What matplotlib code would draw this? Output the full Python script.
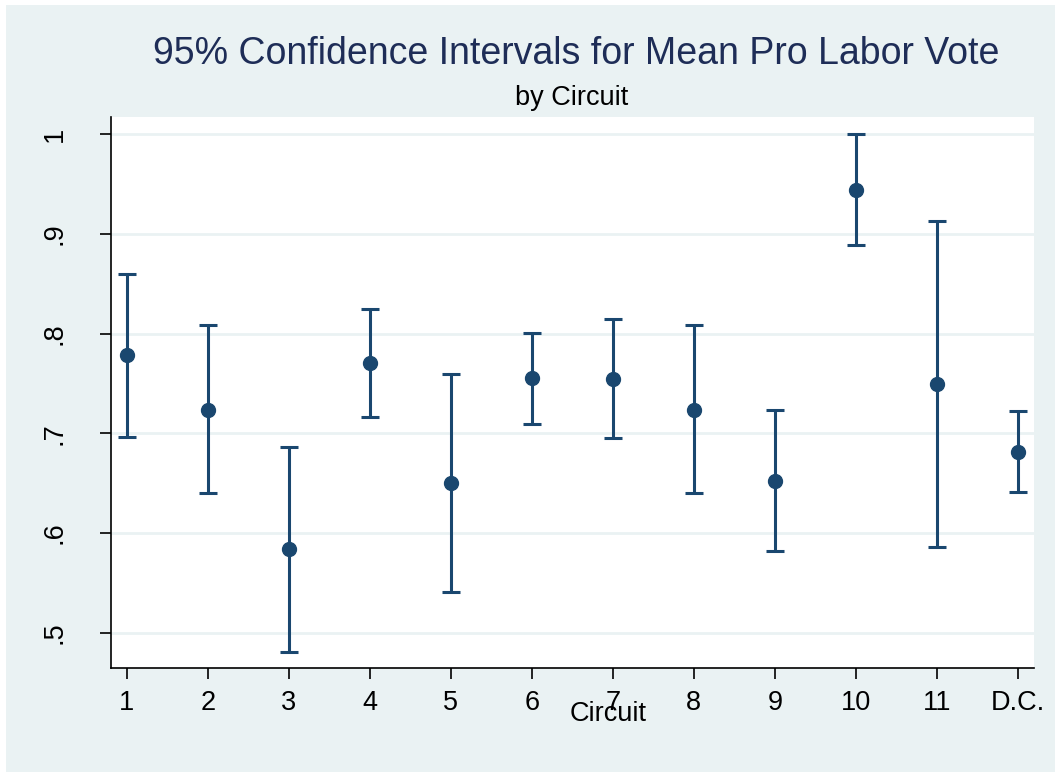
import matplotlib
matplotlib.use("Agg")
import matplotlib.pyplot as plt
from matplotlib.patches import Rectangle

circuits = ["1", "2", "3", "4", "5", "6", "7", "8", "9", "10", "11", "D.C."]
means = [0.779, 0.723, 0.584, 0.771, 0.650, 0.756, 0.755, 0.723, 0.652, 0.944, 0.750, 0.681]
lower = [0.696, 0.640, 0.481, 0.716, 0.541, 0.709, 0.695, 0.640, 0.582, 0.889, 0.586, 0.641]
upper = [0.860, 0.809, 0.686, 0.825, 0.760, 0.801, 0.815, 0.809, 0.723, 1.000, 0.913, 0.722]
yticks = [0.5, 0.6, 0.7, 0.8, 0.9, 1.0]
ytick_labels = [".5", ".6", ".7", ".8", ".9", "1"]

plt.rcParams['font.family'] = ['Liberation Sans', 'DejaVu Sans']

W, H = 1055, 772
fig = plt.figure(figsize=(W / 100, H / 100), dpi=100)
fig.patch.set_facecolor("white")
bg = "#EAF2F3"
fig.patches.append(Rectangle((6 / W, 0), 1 - 6 / W, 1 - 5 / H, transform=fig.transFigure,
                             facecolor=bg, edgecolor="none", zorder=-10))

left, right, top, bottom = 110.7, 1034, 117, 668
ax = fig.add_axes([left / W, 1 - bottom / H, (right - left) / W, (bottom - top) / H])
ax.set_facecolor("white")

x = list(range(1, len(circuits) + 1))
col = "#1A476F"
yerr = [[m - l for m, l in zip(means, lower)], [u - m for m, u in zip(means, upper)]]
ax.errorbar(x, means, yerr=yerr, fmt="o", color=col, ecolor=col, elinewidth=2.2,
            capsize=6.3, capthick=2.2, markersize=10, zorder=3)

ax.set_xlim(0.8, 12.2)
ax.set_ylim(0.4646, 1.0174)
ax.set_xticks(x)
ax.set_xticklabels(circuits, fontsize=19.5)
ax.set_yticks(yticks)
ax.set_yticklabels(ytick_labels, fontsize=19.5, rotation=90, va="center")
ax.yaxis.grid(True, color=bg, linewidth=2)
ax.set_axisbelow(True)
for s in ["top", "right"]:
    ax.spines[s].set_visible(False)
for s in ["left", "bottom"]:
    ax.spines[s].set_color("black")
    ax.spines[s].set_linewidth(1.2)
ax.tick_params(axis="both", direction="out", length=8, width=1.2, color="black")
ax.tick_params(axis="x", pad=8)
ax.tick_params(axis="y", pad=23)

fig.text(576 / W, 1 - 54 / H, "95% Confidence Intervals for Mean Pro Labor Vote",
         ha="center", va="center", fontsize=27, color="#1E2D57")
fig.text(572 / W, 1 - 98 / H, "by Circuit", ha="center", va="center", fontsize=19.5, color="black")
fig.text(608 / W, 1 - 714 / H, "Circuit", ha="center", va="center", fontsize=19.5, color="black")

fig.savefig("out.png", dpi=100, facecolor=fig.get_facecolor())
